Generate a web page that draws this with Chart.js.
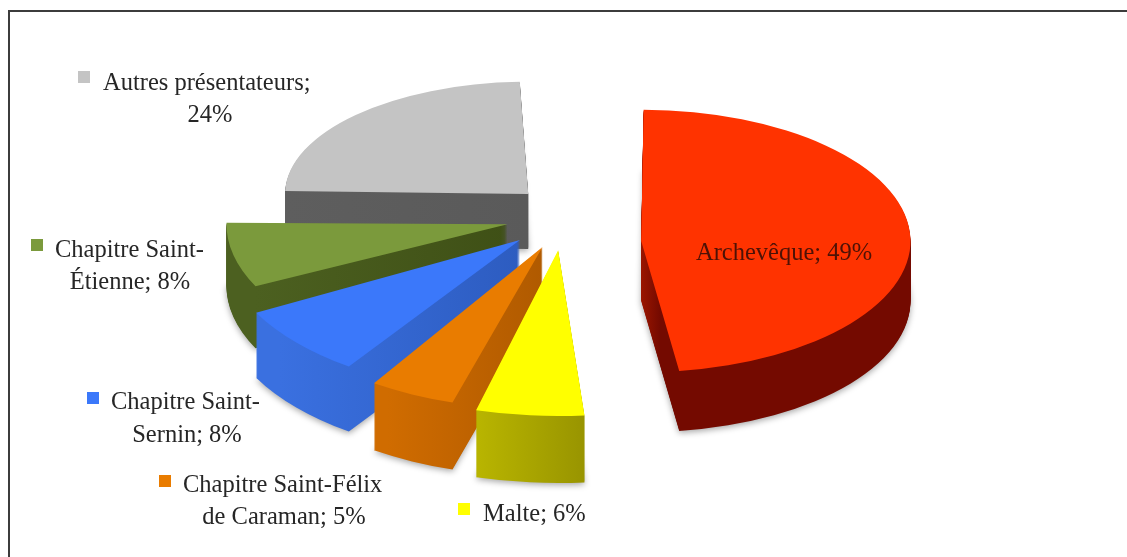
<!DOCTYPE html>
<html>
<head>
<meta charset="utf-8">
<title>Présentateurs</title>
<script src="https://cdn.jsdelivr.net/npm/chart.js@4"></script>
<style>
  html, body { margin: 0; background: #fff; }
  #wrap { position: relative; width: 1127px; height: 557px; overflow: hidden; }
  #frame { position: absolute; left: 8px; top: 10px; width: 1200px; height: 700px; border: 2px solid #3c3c3c; }
  canvas { position: absolute; left: 0; top: 0; }
</style>
</head>
<body>
<div id="wrap">
  <div id="frame"></div>
  <canvas id="pie" width="1127" height="557"></canvas>
</div>
<script>
const categories = ['Archevêque', 'Malte', 'Chapitre Saint-Félix de Caraman', 'Chapitre Saint-Sernin', 'Chapitre Saint-Étienne', 'Autres présentateurs'];
const shares = [49, 6, 5, 8, 8, 24];
const topColors = ['#ff3300', '#ffff00', '#e97c00', '#3b78fa', '#7b9a3c', '#c4c4c4'];
const wallColors = [['#a81a00', '#740a00'], ['#b8b400', '#989400'], ['#d06c00', '#b05a00'], ['#3a70e0', '#2d5cc0'], ['#4c6020', '#3f5016'], ['#5e5e5e', '#5a5a5a']];
const explode = [250, 90, 102, 128, 136, 120];

// back slices are painted first, the front ones cover their walls
const paintOrder = [5, 0, 4, 3, 2, 1];
const pieCenter = { x: 562, y: 229 };
const pieRadius = 272;
const pieDepth = 60;

// label layout: where the first line wraps, marker, first line start, second line centre, baselines
const labelLayout = [
  { wrap: 'Archevêque; 49%', x: 696, y: 260, color: '#4d1206' },
  { wrap: 'Malte; 6%', x: 483, y: 521, mx: 458, my: 503 },
  { wrap: 'Chapitre Saint-Félix', x: 183, y: 492, mx: 159, my: 475, cx: 284, y2: 524 },
  { wrap: 'Chapitre Saint-', x: 111, y: 409, mx: 87, my: 392, cx: 187, y2: 442 },
  { wrap: 'Chapitre Saint-', x: 55, y: 257, mx: 31, my: 239, cx: 130, y2: 289 },
  { wrap: 'Autres présentateurs;', x: 103, y: 90, mx: 78, my: 71, cx: 210, y2: 122 }
];

// fake perspective: whatever is nearer the front of the tilted pie is drawn larger
function nearness(arc) {
  const mid = (arc.startAngle + arc.endAngle) / 2 + Math.PI / 2;
  return Math.cos(mid);
}

function drawArc(ctx, arc, fill, dy) {
  const c = nearness(arc);
  const size = pieRadius * (1 - 0.15 * c);
  const flat = 0.49 - 0.04 * c;
  // the library widens exploded arcs by offset/4 * fix, take that out again
  const sweep = arc.endAngle - arc.startAngle;
  const fix = 1 - Math.sin(Math.min(Math.PI, sweep));
  const offset = arc.options.offset / 4;
  const k = size / (arc.outerRadius + offset * fix);
  // the explosion runs along a slightly tilted axis, back slices sit a bit higher
  const mid = (arc.startAngle + arc.endAngle) / 2;
  const tilt = 0.2 * offset * k * Math.cos(mid) - 18 * Math.max(0, c);
  const saved = arc.options;
  arc.options = Object.assign({}, saved, { backgroundColor: fill, borderWidth: 0 });
  ctx.save();
  ctx.translate(pieCenter.x, pieCenter.y + tilt + dy);
  ctx.scale(k, k * flat);
  ctx.translate(-arc.x, -arc.y);
  arc.draw(ctx);
  ctx.restore();
  arc.options = saved;
}

const pie3d = {
  id: 'pie3d',
  beforeDatasetDraw(chart) {
    const ctx = chart.ctx;
    const arcs = chart.getDatasetMeta(0).data;
    paintOrder.forEach(i => {
      const arc = arcs[i];
      const a = [arc.startAngle, arc.endAngle];
      const r = arc.outerRadius;
      const grad = ctx.createLinearGradient(arc.x + r * Math.min(Math.cos(a[0]), Math.cos(a[1]), 0), 0,
        arc.x + r * Math.max(Math.cos(a[0]), Math.cos(a[1]), 0), 0);
      grad.addColorStop(0, wallColors[i][0]);
      grad.addColorStop(1, wallColors[i][1]);
      const depth = Math.round(pieDepth * (1 - 0.12 * nearness(arc)));
      ctx.save();
      ctx.shadowColor = 'rgba(0,0,0,0.35)';
      ctx.shadowBlur = 6;
      ctx.shadowOffsetY = 2;
      drawArc(ctx, arc, grad, depth);
      ctx.restore();
      for (let d = depth - 1; d > 0; d--) {
        drawArc(ctx, arc, grad, d);
      }
      drawArc(ctx, arc, topColors[i], 0);
    });
    return false;
  },
  afterDraw(chart) {
    const ctx = chart.ctx;
    ctx.save();
    ctx.font = '24.5px "Liberation Serif"';
    ctx.textBaseline = 'alphabetic';
    labelLayout.forEach((l, i) => {
      const full = categories[i] + '; ' + shares[i] + '%';
      const rest = full.slice(l.wrap.length).trim();
      if (l.mx !== undefined) {
        ctx.fillStyle = topColors[i];
        ctx.fillRect(l.mx, l.my, 12, 12);
      }
      ctx.fillStyle = l.color || '#262626';
      ctx.textAlign = 'left';
      ctx.fillText(l.wrap, l.x, l.y);
      if (rest) {
        ctx.textAlign = 'center';
        ctx.fillText(rest, l.cx, l.y2);
      }
    });
    ctx.restore();
  }
};

new Chart(document.getElementById('pie'), {
  type: 'pie',
  data: {
    labels: categories,
    datasets: [{
      data: shares,
      backgroundColor: topColors,
      borderWidth: 0,
      offset: explode
    }]
  },
  options: {
    responsive: false,
    animation: false,
    rotation: -2,
    plugins: {
      legend: { display: false },
      tooltip: { enabled: false }
    }
  },
  plugins: [pie3d]
});
</script>
</body>
</html>
